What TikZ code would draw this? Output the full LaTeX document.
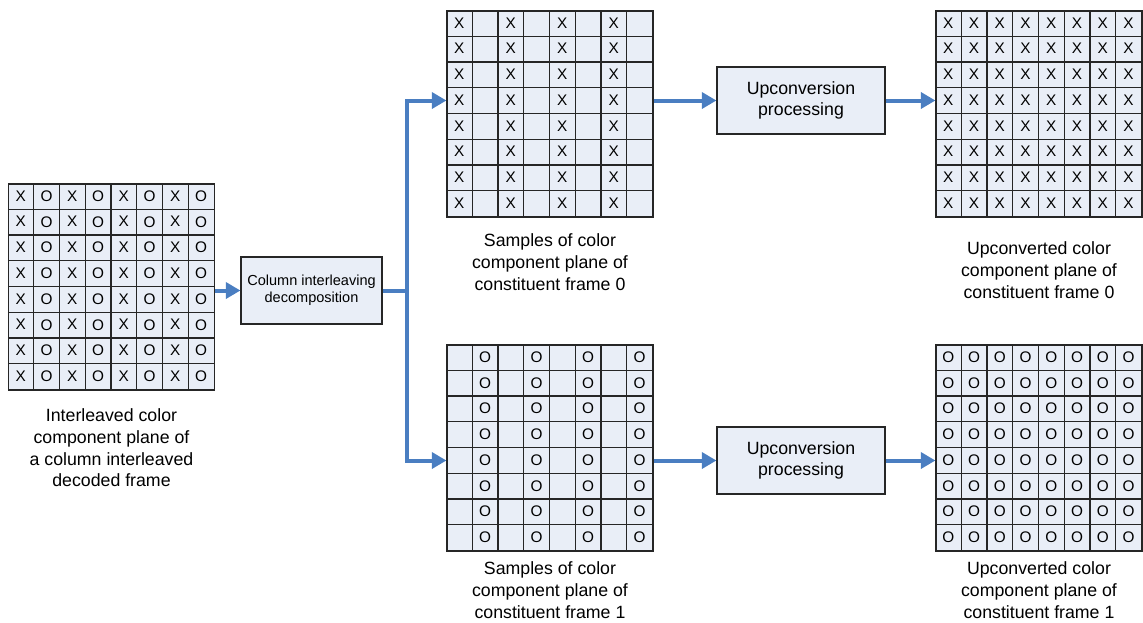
\documentclass[tikz,border=0pt]{standalone}
\usepackage{fontspec}
\setmainfont{Liberation Sans}
\usetikzlibrary{arrows.meta,positioning,calc}

\definecolor{cellfill}{RGB}{233,238,247}
\definecolor{flowblue}{RGB}{74,126,193}

\begin{document}
\begin{tikzpicture}[x=0.75pt,y=0.75pt,yscale=-1,xscale=1,
  plane/.style={draw=black!85, fill=cellfill, line width=0.8pt, minimum width=154.5pt, minimum height=154.5pt, inner sep=0pt},
  cellline/.style={draw=black!85, line width=0.8pt},
  sample/.style={inner sep=0pt, font=\fontsize{11.5}{13}\selectfont},
  procbox/.style={draw=black!85, fill=cellfill, line width=0.8pt, inner sep=0pt, align=center},
  caption/.style={align=center, inner sep=0pt, font=\fontsize{13.3}{16.3}\selectfont},
  flow/.style={draw=flowblue, line width=3pt, -{Triangle[length=11pt,width=12pt]}},
  flowline/.style={draw=flowblue, line width=3pt}
]
\useasboundingbox (0,0) rectangle (1143,622);

%Planes of samples
\node[plane] (src) at (111.5,287) {};
\node[plane] (s0) at (550,114) {};
\node[plane] (u0) at (1039,114) {};
\node[plane] (s1) at (550,448) {};
\node[plane] (u1) at (1039,448) {};

%Cell lines
\foreach \g in {src,s0,u0,s1,u1}{
  \foreach \k in {1,...,7}{
    \draw[cellline] ($(\g.north west)+(\k*25.75,0)$) -- ($(\g.south west)+(\k*25.75,0)$);
    \draw[cellline] ($(\g.north west)+(0,\k*25.75)$) -- ($(\g.north east)+(0,\k*25.75)$);
  }
}

%Samples X and O
\foreach \g/\cols/\txt in {src/{0,2,4,6}/X, src/{1,3,5,7}/O, s0/{0,2,4,6}/X, u0/{0,...,7}/X, s1/{1,3,5,7}/O, u1/{0,...,7}/O}
  \foreach \c in \cols
    \foreach \r in {0,...,7}
      \node[sample] (\g-\c-\r) at ($(\g.north west)+(\c*25.75+12.875,\r*25.75+12.5)$) {\txt};

%Processing boxes
\node[procbox, minimum width=105.75pt, minimum height=50.25pt, font=\fontsize{10.9}{13}\selectfont] (dec) at (311.5,290.5) {Column interleaving\\decomposition};
\node[procbox, minimum width=126pt, minimum height=50.25pt, font=\fontsize{13.3}{15.75}\selectfont] (up0) at (801,100.5) {Upconversion\\processing};
\node[procbox, minimum width=126pt, minimum height=50.25pt, font=\fontsize{13.3}{15.75}\selectfont] (up1) at (801,460.5) {Upconversion\\processing};

% Text Node
\node[caption, below=13.5pt of src] (srccap) {Interleaved color\\component plane of\\a column interleaved\\decoded frame};
% Text Node
\node[caption, below=12pt of s0] (s0cap) {Samples of color\\component plane of\\constituent frame 0};
% Text Node
\node[caption, below=18pt of u0] (u0cap) {Upconverted color\\component plane of\\constituent frame 0};
% Text Node
\node[caption, below=7.5pt of s1] (s1cap) {Samples of color\\component plane of\\constituent frame 1};
% Text Node
\node[caption, below=7.5pt of u1] (u1cap) {Upconverted color\\component plane of\\constituent frame 1};

%Arrows
\coordinate[right=18pt of dec.east] (split);
\draw[flow] (src.east |- dec.west) -- (dec.west);
\draw[flowline] (dec.east) -- (split);
\draw[flow] (split) |- (up0 -| s0.west);
\draw[flow] (split) |- (up1 -| s1.west);
\draw[flow] (s0.east |- up0) -- (up0.west);
\draw[flow] (up0.east) -- (u0.west |- up0);
\draw[flow] (s1.east |- up1) -- (up1.west);
\draw[flow] (up1.east) -- (u1.west |- up1);

\end{tikzpicture}
\end{document}
